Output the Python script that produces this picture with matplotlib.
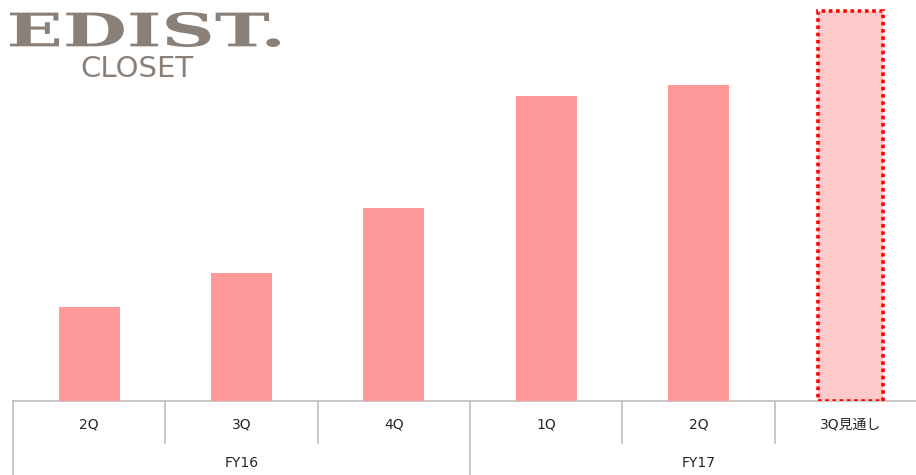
import matplotlib
matplotlib.use("Agg")
import matplotlib.pyplot as plt
from matplotlib.textpath import TextPath
from matplotlib.patches import PathPatch
from matplotlib.font_manager import FontProperties
from matplotlib.transforms import Affine2D

plt.rcParams['font.family'] = ['DejaVu Sans', 'Noto Sans CJK JP']

quarters = ["2Q", "3Q", "4Q", "1Q", "2Q", "3Q見通し"]
years = ["FY16", "FY17"]
year_spans = [(0, 3), (3, 6)]
values = [94, 128, 193, 305, 316, 390]
is_forecast = [False, False, False, False, False, True]

W, H = 916, 475
fig = plt.figure(figsize=(W / 100, H / 100), dpi=100)

# axes: baseline at y=401 px, left edge at x=13 px, 6 slots of ~152.3 px
base_px = 401
slot = 152.3
left_px = 13
ax = fig.add_axes([left_px / W, (H - base_px) / H, 6 * slot / W, base_px / H])
ax.set_xlim(-0.5, 5.5)
ax.set_ylim(0, 401)
ax.axis("off")

x = list(range(len(values)))
for xi, v, fc in zip(x, values, is_forecast):
    if fc:
        ax.bar(xi, v, width=0.43, color="#ffc9c9", edgecolor="#ff0000",
               linewidth=2.6, linestyle=(0, (1, 1)), zorder=3)
    else:
        ax.bar(xi, v, width=0.4, color="#ff9999", zorder=2)

# category axis with separators
tr = ax.get_xaxis_transform()
def fy(px):
    return -px / base_px

grey = "#bfbfbf"
ax.plot([-0.5, 5.5], [0, 0], transform=tr, color=grey, lw=1.2,
        clip_on=False, zorder=1)
for i in range(7):
    bx = i - 0.5
    depth = 80 if i in (0, 3, 6) else 42
    ax.plot([bx, bx], [0, fy(depth)], transform=tr, color=grey, lw=1.2,
            clip_on=False, zorder=1)
for xi, q in zip(x, quarters):
    ax.text(xi, fy(23), q, transform=tr, ha="center", va="center",
            fontsize=10, color="#262626", clip_on=False)
for (a, b), yname in zip(year_spans, years):
    ax.text((a + b - 1) / 2, fy(62), yname, transform=tr, ha="center", va="center",
            fontsize=10, color="#262626", clip_on=False)

# logo
logo_col = "#8a8078"
tp = TextPath((0, 0), "EDIST.", size=40,
              prop=FontProperties(family="DejaVu Serif", weight="bold"))
bb = tp.get_extents()
x0, x1, y0, y1 = 10, 280, H - 47, H - 12
sx = (x1 - x0) / bb.width
sy = (y1 - y0) / bb.height
t = Affine2D().translate(-bb.x0, -bb.y0).scale(sx, sy).translate(x0, y0)
fig.patches.append(PathPatch(t.transform_path(tp), transform=None,
                             facecolor=logo_col, edgecolor="none"))
fig.text(137 / W, 1 - 69 / H, "CLOSET", ha="center", va="center",
         fontsize=21, color=logo_col)

fig.savefig("out.png", dpi=100)
